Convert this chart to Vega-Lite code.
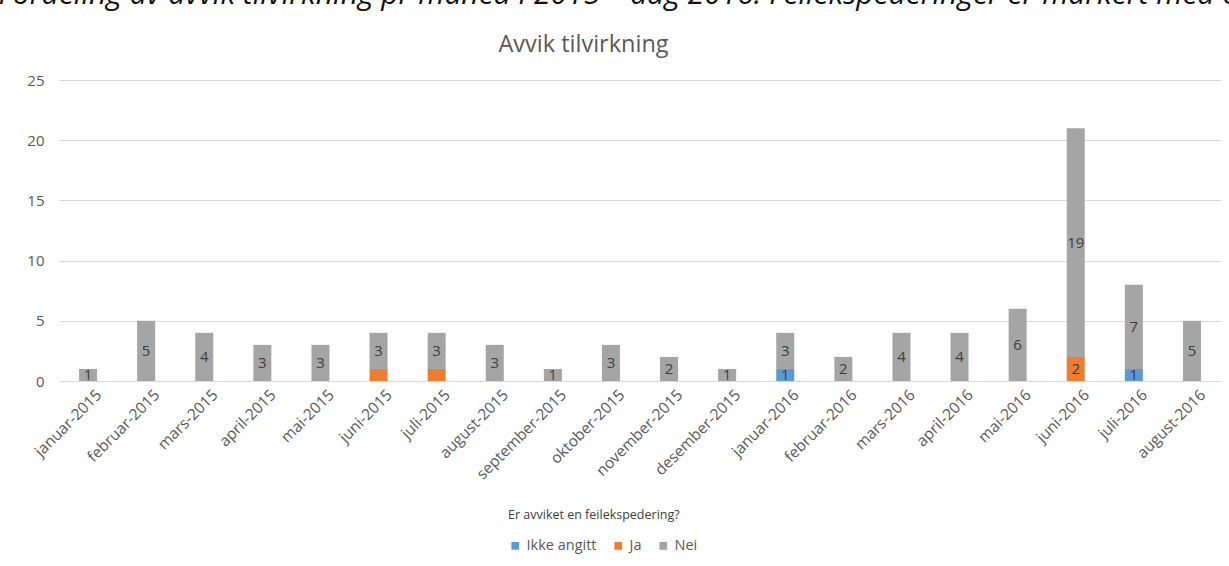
{
  "$schema": "https://vega.github.io/schema/vega-lite/v6.json",
  "autosize": "none",
  "width": 1162,
  "height": 301,
  "padding": {"left": 59, "top": 80, "right": 8, "bottom": 185},
  "background": "white",
  "config": {"view": {"stroke": null}, "font": "Open Sans"},
  "data": {
    "values": [
      {"maaned": "januar-2015", "kategori": "Nei", "antall": 1},
      {"maaned": "februar-2015", "kategori": "Nei", "antall": 5},
      {"maaned": "mars-2015", "kategori": "Nei", "antall": 4},
      {"maaned": "april-2015", "kategori": "Nei", "antall": 3},
      {"maaned": "mai-2015", "kategori": "Nei", "antall": 3},
      {"maaned": "juni-2015", "kategori": "Ja", "antall": 1},
      {"maaned": "juni-2015", "kategori": "Nei", "antall": 3},
      {"maaned": "juli-2015", "kategori": "Ja", "antall": 1},
      {"maaned": "juli-2015", "kategori": "Nei", "antall": 3},
      {"maaned": "august-2015", "kategori": "Nei", "antall": 3},
      {"maaned": "september-2015", "kategori": "Nei", "antall": 1},
      {"maaned": "oktober-2015", "kategori": "Nei", "antall": 3},
      {"maaned": "november-2015", "kategori": "Nei", "antall": 2},
      {"maaned": "desember-2015", "kategori": "Nei", "antall": 1},
      {"maaned": "januar-2016", "kategori": "Ikke angitt", "antall": 1},
      {"maaned": "januar-2016", "kategori": "Nei", "antall": 3},
      {"maaned": "februar-2016", "kategori": "Nei", "antall": 2},
      {"maaned": "mars-2016", "kategori": "Nei", "antall": 4},
      {"maaned": "april-2016", "kategori": "Nei", "antall": 4},
      {"maaned": "mai-2016", "kategori": "Nei", "antall": 6},
      {"maaned": "juni-2016", "kategori": "Ja", "antall": 2},
      {"maaned": "juni-2016", "kategori": "Nei", "antall": 19},
      {"maaned": "juli-2016", "kategori": "Ikke angitt", "antall": 1},
      {"maaned": "juli-2016", "kategori": "Nei", "antall": 7},
      {"maaned": "august-2016", "kategori": "Nei", "antall": 5}
    ]
  },
  "transform": [
    {"calculate": "indexof(['Ikke angitt','Ja','Nei'], datum.kategori)", "as": "ord"}
  ],
  "layer": [
    {
      "mark": {"type": "bar"},
      "encoding": {
        "x": {
          "field": "maaned",
          "type": "ordinal",
          "sort": null,
          "scale": {
            "domain": ["januar-2015","februar-2015","mars-2015","april-2015","mai-2015","juni-2015","juli-2015","august-2015","september-2015","oktober-2015","november-2015","desember-2015","januar-2016","februar-2016","mars-2016","april-2016","mai-2016","juni-2016","juli-2016","august-2016"],
            "paddingInner": 0.69,
            "paddingOuter": 0.345
          },
          "axis": {
            "labelAngle": -45,
            "labelFontSize": 15.5,
            "labelColor": "#595959",
            "labelOffset": 6,
            "ticks": false,
            "domainColor": "#d9d9d9",
            "labelPadding": 6,
            "title": "Fordeling av avvik tilvirkning pr måned i 2015 – aug 2016. Feilekspederinger er markert med oransje farge",
            "titleX": -61,
            "titleY": -378,
            "titleAlign": "left",
            "titleBaseline": "alphabetic",
            "titleAngle": 0,
            "titleFont": "Open Sans",
            "titleFontStyle": "italic",
            "titleFontWeight": "normal",
            "titleFontSize": 30,
            "titleColor": "#111111",
            "titleLimit": 3000
          }
        },
        "y": {
          "field": "antall",
          "type": "quantitative",
          "stack": "zero",
          "scale": {"domain": [0, 25], "nice": false, "zero": true},
          "axis": {
            "values": [0, 5, 10, 15, 20, 25],
            "domain": false,
            "ticks": false,
            "gridColor": "#d9d9d9",
            "labelFontSize": 15,
            "labelColor": "#595959",
            "labelPadding": 15,
            "title": "Avvik tilvirkning",
            "titleAngle": 0,
            "titleX": 524,
            "titleY": -36,
            "titleAlign": "center",
            "titleBaseline": "middle",
            "titleFontSize": 23.5,
            "titleFontWeight": "normal",
            "titleColor": "#595959",
            "titleFont": "Open Sans"
          }
        },
        "color": {
          "field": "kategori",
          "type": "nominal",
          "scale": {"domain": ["Ikke angitt", "Ja", "Nei"], "range": ["#5B9BD5", "#ED7D31", "#A5A5A5"]},
          "legend": {
            "orient": "none",
            "direction": "horizontal",
            "legendX": 449,
            "legendY": 429,
            "title": "Er avviket en feilekspedering?",
            "titleFontSize": 12.5,
            "titleFontWeight": "normal",
            "titleColor": "#404040",
            "titlePadding": 17,
            "symbolType": "square",
            "symbolSize": 60,
            "symbolStrokeWidth": 0,
            "labelFontSize": 14.5,
            "labelColor": "#595959",
            "columnPadding": 14
          }
        },
        "order": {"field": "ord", "type": "quantitative"}
      }
    },
    {
      "transform": [
        {"stack": "antall", "groupby": ["maaned"], "sort": [{"field": "ord", "order": "ascending"}], "as": ["y0", "y1"]},
        {"filter": "!(datum.kategori == 'Ja' && datum.antall == 1)"},
        {"calculate": "(datum.y0 + datum.y1) / 2", "as": "mid"}
      ],
      "mark": {"type": "text", "fontSize": 15, "color": "#404040", "baseline": "middle", "align": "center"},
      "encoding": {
        "x": {"field": "maaned", "type": "ordinal", "sort": null},
        "y": {"field": "mid", "type": "quantitative", "scale": {"domain": [0, 25], "nice": false}},
        "text": {"field": "antall", "type": "quantitative"}
      }
    }
  ]
}
